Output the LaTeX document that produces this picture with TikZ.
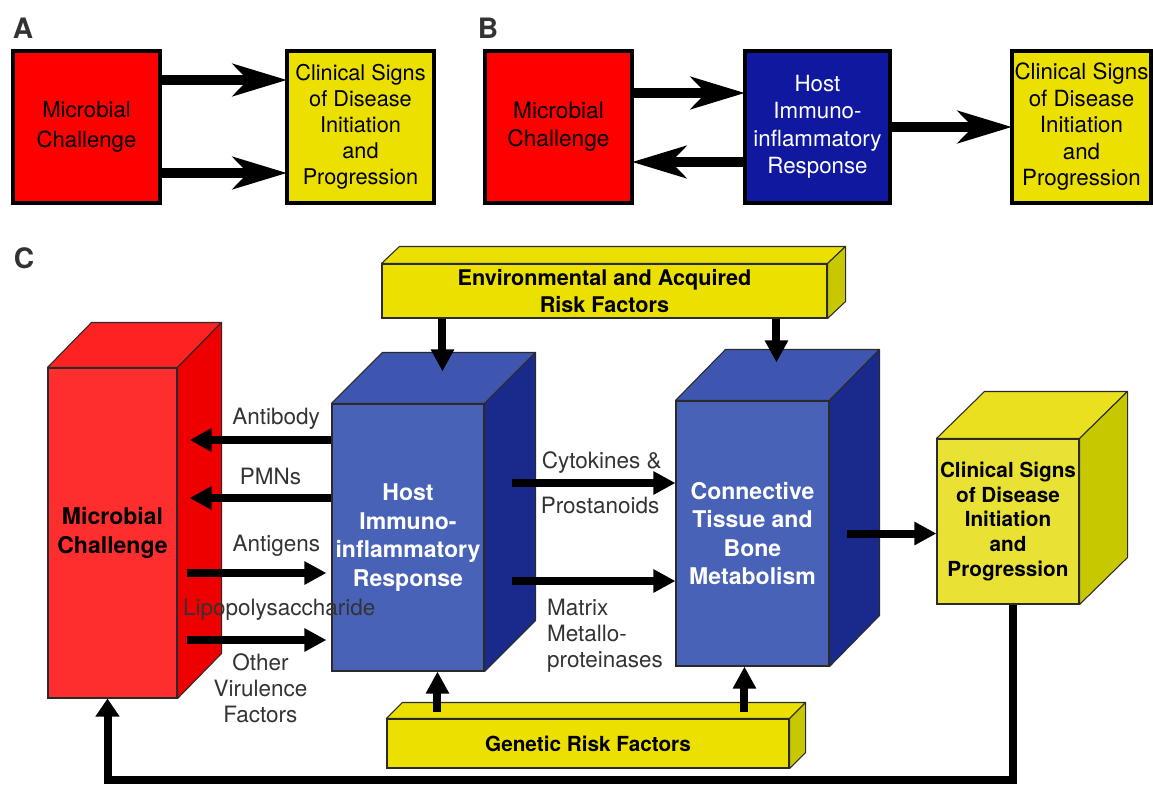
\documentclass[tikz,border=0pt]{standalone}
\usepackage{fontspec}
\setmainfont{TeX Gyre Heros}
\usetikzlibrary{arrows.meta, positioning}
\definecolor{mred}{HTML}{FF0000}
\definecolor{myel}{HTML}{EBE000}
\definecolor{mnavy}{HTML}{1018A0}
\definecolor{cred}{HTML}{FF2E2E}
\definecolor{credtop}{HTML}{FF2222}
\definecolor{credside}{HTML}{EE0000}
\definecolor{cblue}{HTML}{4862B8}
\definecolor{cbluetop}{HTML}{3E56B0}
\definecolor{cblueside}{HTML}{1A2A8C}
\definecolor{cyel}{HTML}{E9E235}
\definecolor{cyeltop}{HTML}{EAE020}
\definecolor{cyelside}{HTML}{C8C800}
\definecolor{ink}{HTML}{333333}
\definecolor{edge}{HTML}{2A2A2A}
\tikzstyle{panel} = [font=\bfseries\fontsize{16}{18}\selectfont, text=ink]
\tikzstyle{flat} = [rectangle, draw=black, line width=2pt, outer sep=0pt, minimum width=2.94cm, minimum height=3.04cm, inner sep=1pt, align=center, font=\fontsize{12.35}{14.8}\selectfont]
\tikzstyle{fat} = [line width=0.2cm, -{Stealth[length=1.08cm, width=0.64cm, inset=0.3cm]}]
\tikzstyle{front} = [rectangle, draw=edge, line width=0.6pt, inner sep=1pt, align=center, font=\bfseries\fontsize{13.1}{16.2}\selectfont]
\tikzstyle{flow} = [line width=0.16cm, -{Triangle[length=0.44cm, width=0.44cm]}]
\tikzstyle{lbl} = [text=ink, font=\fontsize{12.8}{14.8}\selectfont, align=center, inner sep=1pt]

% top and right faces of a box drawn behind a front node
\newcommand{\faces}[5]{%
  \filldraw[fill=#4, draw=edge, line width=0.6pt, line join=round] (#1.north west) -- ++(#2,#3) -- ([shift={(#2,#3)}]#1.north east) -- (#1.north east) -- cycle;
  \filldraw[fill=#5, draw=edge, line width=0.6pt, line join=round] (#1.north east) -- ([shift={(#2,#3)}]#1.north east) -- ([shift={(#2,#3)}]#1.south east) -- (#1.south east) -- cycle;
}

\begin{document}
\begin{tikzpicture}
\useasboundingbox (0,0) rectangle (23.06,-15.70);

% A
\node (labA) [panel] at (0.46,-0.56) {A};
\node (micA) [flat, fill=mred, font=\fontsize{12.6}{17}\selectfont] at (1.73,-2.54) {Microbial\\Challenge};
\node (clinA) [flat, fill=myel, right=2.54cm of micA] {Clinical Signs\\of Disease\\Initiation\\and\\Progression};
\draw [fat] ([yshift=0.94cm]micA.east) -- ([yshift=0.94cm]clinA.west);
\draw [fat] ([yshift=-0.92cm]micA.east) -- ([yshift=-0.92cm]clinA.west);

% B
\node (labB) [panel] at (9.76,-0.56) {B};
\node (micB) [flat, fill=mred, font=\fontsize{12.9}{16}\selectfont] at (11.17,-2.54) {Microbial\\Challenge};
\node (hostB) [flat, fill=mnavy, text=white, minimum width=2.9cm, font=\fontsize{12.7}{15.6}\selectfont, right=2.26cm of micB] {Host\\Immuno-\\inflammatory\\Response};
\node (clinB) [flat, fill=myel, minimum width=2.78cm, font=\fontsize{12.7}{15.1}\selectfont, right=2.44cm of hostB] {Clinical Signs\\of Disease\\Initiation\\and\\Progression};
\draw [fat] ([yshift=0.68cm]micB.east) -- ([yshift=0.68cm]hostB.west);
\draw [fat] ([yshift=-0.70cm]hostB.west) -- ([yshift=-0.70cm]micB.east);
\draw [fat] (hostB) -- (clinB);

% C
\node (labC) [panel] at (0.48,-5.16) {C};
\node (micC) [front, fill=cred, minimum width=2.58cm, minimum height=6.6cm] at (2.25,-10.66) {Microbial\\Challenge};
\faces{micC}{0.88}{0.9}{credtop}{credside}
\node (hostC) [front, fill=cblue, text=white, minimum width=3.04cm, minimum height=5.34cm] at (8.16,-10.75) {Host\\Immuno-\\inflammatory\\Response};
\faces{hostC}{1.02}{1.02}{cbluetop}{cblueside}
\node (tissue) [front, fill=cblue, text=white, minimum width=3.06cm, minimum height=5.3cm] at (15.05,-10.67) {Connective\\Tissue and\\Bone\\Metabolism};
\faces{tissue}{1.0}{1.02}{cbluetop}{cblueside}
\node (clinC) [front, fill=cyel, minimum width=2.84cm, minimum height=3.3cm, font=\bfseries\fontsize{11.8}{14.2}\selectfont] at (20.16,-10.43) {Clinical Signs\\of Disease\\Initiation\\and\\Progression};
\faces{clinC}{0.96}{0.94}{cyeltop}{cyelside}
\node (env) [front, fill=myel, minimum width=8.9cm, minimum height=1.08cm, font=\bfseries\fontsize{12.3}{15.4}\selectfont] at (12.09,-5.82) {Environmental and Acquired\\Risk Factors};
\faces{env}{0.36}{0.34}{myel}{cyelside}
\node (gene) [front, fill=myel, minimum width=8.04cm, minimum height=0.98cm, font=\bfseries\fontsize{11.8}{14}\selectfont] at (11.76,-14.87) {Genetic Risk Factors};
\faces{gene}{0.32}{0.32}{myel}{cyelside}

\coordinate (ab) at ([yshift=1.95cm]hostC.west);
\coordinate (pm) at ([yshift=0.79cm]hostC.west);
\coordinate (ag) at ([yshift=-0.71cm]hostC.west);
\coordinate (lp) at ([yshift=-2.05cm]hostC.west);
\draw [flow] (ab) -- ([xshift=0.24cm]ab -| micC.east) node[lbl, pos=0.39, above=3pt] {Antibody};
\draw [flow] (pm) -- ([xshift=0.24cm]pm -| micC.east) node[lbl, pos=0.43, above=4pt] {PMNs};
\draw [flow, shorten >=1mm] ([xshift=0.18cm]ag -| micC.east) -- (ag) node[lbl, pos=0.62, above=6pt] {Antigens};
\draw [flow, shorten >=1mm] ([xshift=0.18cm]lp -| micC.east) -- (lp)
  node[lbl, pos=0.64, above=8pt] {Lipopolysaccharide}
  node[lbl, pos=0.51, below=4.5pt] {Other\\Virulence\\Factors};

\coordinate (cyt) at ([xshift=0.54cm, yshift=1.09cm]hostC.east);
\coordinate (mmp) at ([xshift=0.54cm, yshift=-0.87cm]hostC.east);
\draw [flow] (cyt) -- (cyt -| tissue.west)
  node[lbl, pos=0.55, above=2pt] {Cytokines \&}
  node[lbl, pos=0.54, below=5pt] {Prostanoids};
\draw [flow] (mmp) -- (mmp -| tissue.west)
  node[lbl, pos=0.57, below=7pt, align=left] {Matrix\\Metallo-\\proteinases};

\coordinate (tout) at ([xshift=0.34cm]tissue.east);
\draw [flow] (tout) -- (tout -| clinC.west);

\coordinate (e1) at ([xshift=1.22cm]env.south west);
\coordinate (e2) at ([xshift=7.9cm]env.south west);
\draw [flow] (e1) -- ([yshift=0.64cm]e1 |- hostC.north);
\draw [flow] (e2) -- ([yshift=0.76cm]e2 |- tissue.north);

\coordinate (g1) at ([xshift=1.02cm, yshift=0.12cm]gene.north west);
\coordinate (g2) at ([xshift=7.16cm, yshift=0.12cm]gene.north west);
\draw [flow] (g1) -- (g1 |- hostC.south);
\draw [flow] (g2) -- (g2 |- tissue.south);

\draw [flow, -{Triangle[length=0.36cm, width=0.46cm]}] ([xshift=0.1cm]clinC.south) -- ++(0,-3.5) -| ([xshift=-0.1cm]micC.south);
\end{tikzpicture}
\end{document}
